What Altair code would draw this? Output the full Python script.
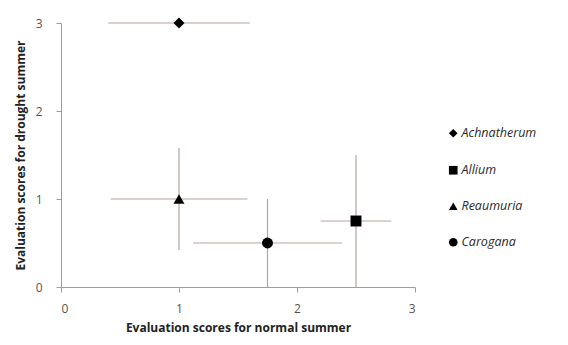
import altair as alt
import pandas as pd

species = ["Achnatherum", "Allium", "Reaumuria", "Carogana"]
normal = [1.0, 2.5, 1.0, 1.75]
drought = [3.0, 0.75, 1.0, 0.5]
normal_err = [0.6, 0.3, 0.58, 0.63]
drought_err = [0.0, 0.75, 0.58, 0.5]
shapes = ["diamond", "square", "triangle-up", "circle"]

df = pd.DataFrame({
    "species": species,
    "normal": normal,
    "drought": drought,
    "nlo": [max(0, n - e) for n, e in zip(normal, normal_err)],
    "nhi": [n + e for n, e in zip(normal, normal_err)],
    "dlo": [max(0, d - e) for d, e in zip(drought, drought_err)],
    "dhi": [d + e for d, e in zip(drought, drought_err)],
})

err_color = "#b3a59f"
xscale = alt.Scale(domain=[0, 3], nice=False)
yscale = alt.Scale(domain=[0, 3], nice=False)

base = alt.Chart(df)

xerr = base.mark_rule(color=err_color, strokeWidth=1.2).encode(
    x=alt.X("nlo:Q", scale=xscale),
    x2="nhi:Q",
    y=alt.Y("drought:Q", scale=yscale),
)
yerr = base.transform_filter("datum.dhi > datum.dlo").mark_rule(color=err_color, strokeWidth=1.2).encode(
    x=alt.X("normal:Q", scale=xscale),
    y=alt.Y("dlo:Q", scale=yscale),
    y2="dhi:Q",
)

points = base.mark_point(filled=True, opacity=1, color="black", size=120).encode(
    x=alt.X("normal:Q", scale=xscale,
            axis=alt.Axis(title="Evaluation scores for normal summer", values=[0, 1, 2, 3],
                          format="d", grid=False)),
    y=alt.Y("drought:Q", scale=yscale,
            axis=alt.Axis(title="Evaluation scores for drought summer", values=[0, 1, 2, 3],
                          format="d", grid=False)),
    shape=alt.Shape("species:N",
                    scale=alt.Scale(domain=species, range=shapes),
                    legend=alt.Legend(title=None, orient="none", legendX=386, legendY=104,
                                      labelFontStyle="italic", labelFontSize=12.5,
                                      labelColor="#2a2a2a", symbolFillColor="black",
                                      symbolStrokeColor="black", symbolSize=75,
                                      rowPadding=21, labelOffset=2)),
)

chart = alt.layer(xerr, yerr, points).properties(
    width=354, height=264,
    autosize=alt.AutoSizeParams(type="none"),
    padding={"left": 53, "top": 15, "right": 140, "bottom": 50},
).configure_view(stroke=None).configure_axis(
    domainColor="#a89a94",
    tickColor="#a89a94",
    tickSize=5,
    labelColor="#555555",
    labelFontSize=12,
    labelFont="Open Sans",
    titleFont="Open Sans",
    titleFontSize=12,
    titleFontWeight="bold",
    titleColor="#222222",
).configure_axisX(titlePadding=8, labelPadding=11).configure_axisY(titlePadding=8, labelPadding=14).configure_legend(
    labelFont="Open Sans"
)

chart.save("out.html", embed_options={"renderer": "svg", "actions": False})
